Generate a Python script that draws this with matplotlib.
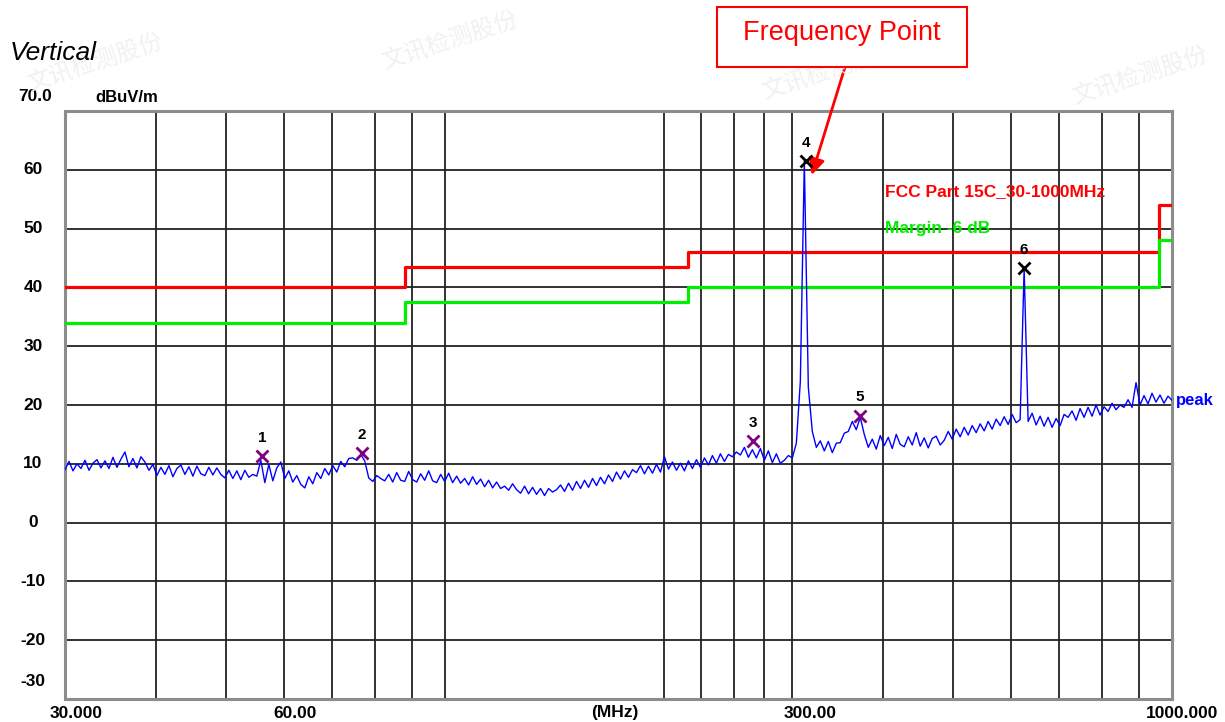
import numpy as np
import matplotlib.pyplot as plt
from matplotlib.patches import Rectangle

plt.rcParams['font.family'] = ['Liberation Sans', 'Noto Sans CJK SC', 'DejaVu Sans']

# measured peak trace (dBuV/m), sweep 30 MHz .. 1000 MHz on a log grid
level = [
    9.0, 10.4, 8.8, 10.0, 9.2, 10.6, 8.9, 10.1, 10.7, 9.3,
    10.5, 9.2, 11.1, 9.4, 10.8, 12.0, 9.5, 10.9, 9.3, 11.2,
    10.3, 8.9, 9.9, 8.0, 9.4, 8.2, 9.7, 7.8, 9.2, 9.8,
    8.2, 9.5, 7.9, 9.6, 8.3, 8.0, 9.4, 8.1, 9.3, 8.2,
    7.6, 8.9, 7.5, 8.8, 7.3, 8.9, 7.7, 8.2, 7.9, 10.6,
    6.8, 9.9, 7.1, 9.3, 10.3, 7.5, 8.8, 6.9, 8.0, 6.5,
    5.9, 7.8, 6.6, 8.5, 7.5, 9.2, 8.1, 9.7, 8.6, 10.4,
    9.5, 10.9, 11.0, 10.6, 11.6, 10.5, 7.6, 7.0, 8.0, 7.5,
    7.1, 8.2, 6.9, 8.5, 7.2, 7.0, 8.7, 7.3, 6.9, 8.3,
    7.2, 8.8, 7.1, 6.8, 8.2, 7.0, 8.4, 6.8, 7.9, 6.7,
    7.5, 6.4, 7.8, 6.5, 7.4, 6.1, 7.2, 5.9, 6.9, 5.8,
    6.2, 5.5, 6.6, 5.6, 5.0, 6.2, 4.9, 6.0, 4.8, 5.8,
    4.6, 5.8, 5.2, 5.6, 6.4, 5.3, 6.7, 5.5, 7.0, 5.8,
    7.2, 6.0, 7.5, 6.3, 7.7, 6.6, 8.1, 7.0, 8.6, 7.4,
    8.8, 7.7, 9.0, 8.5, 9.7, 8.3, 9.6, 8.4, 9.9, 8.6,
    11.2, 9.1, 10.3, 8.9, 10.1, 8.8, 10.5, 9.2, 10.7, 9.4,
    11.0, 9.8, 11.4, 10.1, 11.7, 10.4, 11.6, 11.2, 12.0, 11.5,
    12.8, 11.1, 12.4, 11.0, 12.6, 10.6, 12.2, 10.2, 11.7, 10.1,
    10.6, 11.4, 11.0, 13.5, 24.0, 61.5, 23.0, 15.5, 12.8, 13.9,
    12.2, 13.8, 11.9, 13.5, 13.6, 15.2, 15.5, 17.2, 15.8, 17.9,
    15.0, 12.8, 14.2, 12.5, 14.8, 13.1, 14.5, 12.6, 15.0, 13.3,
    12.9, 14.6, 13.2, 15.3, 13.0, 14.4, 12.7, 14.3, 14.7, 13.2,
    14.0, 15.5, 14.2, 15.9, 14.6, 16.2, 14.9, 16.5, 15.3, 16.8,
    15.6, 17.2, 15.9, 17.6, 16.5, 18.0, 16.7, 18.4, 17.0, 17.5,
    43.3, 17.2, 18.6, 16.6, 18.1, 16.4, 17.9, 16.2, 17.7, 16.5,
    18.4, 17.9, 19.0, 17.4, 19.4, 17.9, 19.6, 18.1, 20.0, 18.3,
    19.7, 18.9, 20.3, 19.2, 20.0, 19.6, 20.9, 19.6, 23.8, 20.0,
    21.6, 20.2, 22.0, 20.5, 21.7, 20.3, 21.5, 20.8,
]
freq = np.geomspace(30, 1000, len(level))

# FCC Part 15C limit and -6 dB margin (step edges in MHz)
limit_f = [30, 88, 216, 960, 1000]
limit_db = [40, 43.5, 46, 54, 54]
margin_db = [34, 37.5, 40, 48, 48]

# marked points
marker_no = ['1', '2', '3', '4', '5', '6']
marker_f = [56.0, 76.9, 265.0, 313.4, 372.0, 625.0]
marker_db = [11.3, 11.9, 13.8, 61.5, 18.2, 43.3]
marker_col = ['#800080', '#800080', '#800080', 'black', '#800080', 'black']

xgrid = [40, 50, 60, 70, 80, 90, 100, 200, 225, 250, 275, 300,
         400, 500, 600, 700, 800, 900]
ygrid = [60, 50, 40, 30, 20, 10, 0, -10, -20]

fig = plt.figure(figsize=(12.25, 7.22), dpi=100)
ax = fig.add_axes([65 / 1225, 1 - 699 / 722, 1107 / 1225, 588 / 722])
ax.set_xscale('log')
ax.set_xlim(30, 1000)
ax.set_ylim(-30, 70)
ax.set_xticks([])
ax.set_yticks([])
ax.minorticks_off()
for s in ax.spines.values():
    s.set_color('#8c8c8c')
    s.set_linewidth(2.2)

for g in xgrid:
    ax.axvline(g, color='#222222', lw=1.3, zorder=1)
for g in ygrid:
    ax.axhline(g, color='#222222', lw=1.3, zorder=1)

ax.step(limit_f, limit_db, where='post', color='#ff0000', lw=2.3, zorder=3)
ax.step(limit_f, margin_db, where='post', color='#00ee00', lw=2.3, zorder=3)
ax.plot(freq, level, color='#0000ff', lw=1.0, zorder=4)

for n, f, v, c in zip(marker_no, marker_f, marker_db, marker_col):
    ax.plot(f, v, marker='x', ms=9, mew=2, color=c, zorder=5)
    ax.annotate(n, (f, v), xytext=(0, 8), textcoords='offset points',
                ha='center', va='bottom', fontsize=11, fontweight='bold', zorder=6)

ax.text(885 / 1225, 1 - 192 / 722, 'FCC Part 15C_30-1000MHz', transform=fig.transFigure,
        color='#ff0000', fontsize=12.5, fontweight='bold', va='center')
ax.text(885 / 1225, 1 - 228 / 722, 'Margin -6 dB', transform=fig.transFigure,
        color='#00ee00', fontsize=12.5, fontweight='bold', va='center')
ax.text(1.004, level[-1], 'peak', transform=ax.get_yaxis_transform(), color='#0000ff',
        fontsize=12, fontweight='bold', va='center', ha='left')

# y labels
ytr = ax.get_yaxis_transform()
for g in ygrid:
    ax.text(-0.029, g, str(g), transform=ytr, ha='center', va='center',
            fontsize=12.5, fontweight='bold')
ax.text(-0.027, 72.5, '70.0', transform=ytr, ha='center', va='center',
        fontsize=12.5, fontweight='bold')
ax.text(-0.029, -27, '-30', transform=ytr, ha='center', va='center',
        fontsize=12.5, fontweight='bold')
ax.text(95 / 1225, 1 - 97 / 722, 'dBuV/m', transform=fig.transFigure, ha='left',
        va='center', fontsize=12, fontweight='bold')

# x labels
for px, t in [(76, '30.000'), (295, '60.00'), (615, '(MHz)'), (810, '300.00'), (1182, '1000.000')]:
    fig.text(px / 1225, 1 - 713 / 722, t, ha='center', va='center',
             fontsize=12.5, fontweight='bold')

fig.text(10 / 1225, 1 - 53 / 722, 'Vertical', style='italic', fontsize=19,
         ha='left', va='center')

# faint watermark
for px, py in [(95, 62), (450, 40), (830, 70), (1140, 75)]:
    fig.text(px / 1225, 1 - py / 722, '文讯检测股份', color='#f1f1f1', fontsize=17,
             rotation=18, ha='center', va='center', zorder=0)

# callout box and arrow
fig.patches.append(Rectangle((717 / 1225, 1 - 67 / 722), 250 / 1225, 60 / 722,
                             transform=fig.transFigure, fc='white', ec='#ff0000', lw=1.5))
fig.text(842 / 1225, 1 - 33 / 722, 'Frequency Point', color='#ff0000', fontsize=19.5,
         ha='center', va='center')
tip = ax.transData.transform((marker_f[3], marker_db[3])) + np.array([6, -14])
ax.annotate('', xy=tip, xycoords='figure pixels', xytext=(845, 722 - 67),
            textcoords='figure pixels',
            arrowprops=dict(arrowstyle='-|>', color='#ff0000', lw=2, mutation_scale=24,
                            shrinkA=0, shrinkB=0), annotation_clip=False)

fig.savefig('out.png', dpi=100, facecolor='white')
